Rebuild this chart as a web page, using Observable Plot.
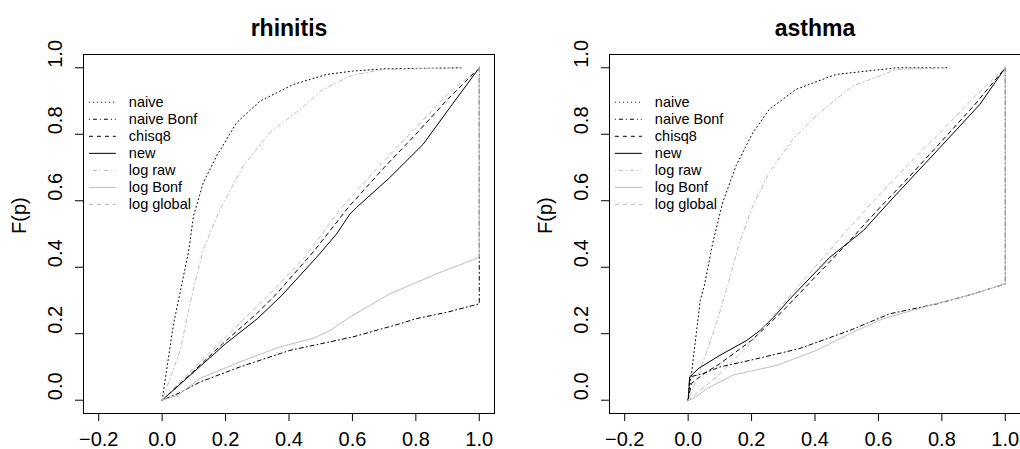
<!DOCTYPE html>
<html><head><meta charset="utf-8">
<script src="https://cdn.jsdelivr.net/npm/d3@7"></script>
<script src="https://cdn.jsdelivr.net/npm/@observablehq/plot@0.6"></script>
<style>
body{margin:0;background:#fff;}
#wrap{display:flex;width:1020px;height:449px;overflow:hidden;}
#wrap svg{display:block;flex:none;}
</style></head><body><div id="wrap"></div>
<script>
const seriesNames = ["naive","naive Bonf","chisq8","new","log raw","log Bonf","log global"];
const panelTitles = ["rhinitis","asthma"];
const xTicks = [-0.2,0,0.2,0.4,0.6,0.8,1.0];
const yTicks = [0,0.2,0.4,0.6,0.8,1.0];
const yLabel = "F(p)";

// rhinitis: [p, F(p)]
const rhinitisNaive = [[0,0],[0.035,0.225],[0.083,0.445],[0.099,0.555],[0.13,0.655],[0.172,0.735],[0.235,0.835],[0.309,0.9],[0.414,0.95],[0.519,0.98],[0.6,0.99],[0.7,0.997],[0.95,1]];
const rhinitisNaiveBonf = [[0,0],[0.05,0.02],[0.12,0.055],[0.245,0.1],[0.403,0.15],[0.6,0.19],[0.75,0.23],[0.8,0.245],[0.9,0.265],[1,0.29],[1,1]];
const rhinitisChisq8 = [[0,0],[0.1,0.088],[0.2,0.178],[0.3,0.262],[0.361,0.32],[0.48,0.45],[0.587,0.58],[0.7,0.70],[0.8,0.80],[0.9,0.905],[1,1]];
const rhinitisNew = [[0,0],[0.1,0.085],[0.2,0.17],[0.3,0.245],[0.377,0.315],[0.487,0.43],[0.55,0.5],[0.592,0.56],[0.613,0.58],[0.718,0.67],[0.823,0.77],[0.907,0.88],[1,1]];
const rhinitisLogRaw = [[0,0],[0.057,0.15],[0.09,0.3],[0.13,0.455],[0.183,0.575],[0.256,0.705],[0.34,0.805],[0.435,0.875],[0.5,0.93],[0.56,0.96],[0.6,0.978],[0.7,0.995],[0.95,1]];
const rhinitisLogBonf = [[0,0],[0.05,0.015],[0.12,0.066],[0.245,0.115],[0.37,0.16],[0.476,0.186],[0.53,0.21],[0.592,0.25],[0.718,0.32],[0.865,0.38],[1,0.43],[1,1]];
const rhinitisLogGlobal = [[0,0],[0.1,0.097],[0.2,0.19],[0.34,0.32],[0.45,0.43],[0.566,0.58],[0.68,0.70],[0.8,0.82],[0.9,0.92],[1,1]];

// asthma: [p, F(p)]
const asthmaNaive = [[0,0],[0.013,0.1],[0.038,0.3],[0.051,0.345],[0.078,0.475],[0.109,0.595],[0.151,0.705],[0.204,0.805],[0.256,0.875],[0.34,0.935],[0.466,0.98],[0.657,1],[0.815,1]];
const asthmaNaiveBonf = [[0,0],[0.005,0.07],[0.047,0.08],[0.1,0.1],[0.195,0.12],[0.35,0.155],[0.51,0.21],[0.636,0.26],[0.785,0.29],[0.9,0.32],[1,0.35],[1,1]];
const asthmaChisq8 = [[0,0],[0.01,0.05],[0.05,0.08],[0.1,0.11],[0.2,0.18],[0.3,0.27],[0.4,0.37],[0.5,0.47],[0.6,0.575],[0.7,0.675],[0.8,0.78],[0.9,0.885],[1,1]];
const asthmaNew = [[0,0],[0.005,0.07],[0.032,0.095],[0.1,0.135],[0.185,0.18],[0.227,0.21],[0.27,0.25],[0.321,0.305],[0.447,0.43],[0.552,0.51],[0.657,0.62],[0.794,0.76],[0.92,0.89],[1,1]];
const asthmaLogRaw = [[0,0],[0.013,0.03],[0.06,0.15],[0.095,0.25],[0.125,0.345],[0.162,0.475],[0.204,0.585],[0.256,0.685],[0.33,0.785],[0.414,0.865],[0.519,0.945],[0.657,0.995],[0.815,1]];
const asthmaLogBonf = [[0,0],[0.016,0.005],[0.06,0.035],[0.14,0.075],[0.28,0.105],[0.405,0.15],[0.51,0.2],[0.615,0.245],[0.78,0.29],[0.9,0.32],[1,0.35],[1,1]];
const asthmaLogGlobal = [[0,0],[0.09,0.07],[0.195,0.17],[0.3,0.29],[0.4,0.4],[0.5,0.51],[0.605,0.62],[0.7,0.715],[0.8,0.81],[0.9,0.91],[1,1]];

const rhinitisSeries = [rhinitisNaive, rhinitisNaiveBonf, rhinitisChisq8, rhinitisNew, rhinitisLogRaw, rhinitisLogBonf, rhinitisLogGlobal];
const asthmaSeries = [asthmaNaive, asthmaNaiveBonf, asthmaChisq8, asthmaNew, asthmaLogRaw, asthmaLogBonf, asthmaLogGlobal];

const GRAY = "#bebebe";
const lineStyles = [
  {stroke: "#000", dash: "1,3"},
  {stroke: "#000", dash: "1,3,4,3"},
  {stroke: "#000", dash: "4,4"},
  {stroke: "#000", dash: null},
  {stroke: GRAY, dash: "1,3,4,3"},
  {stroke: GRAY, dash: null},
  {stroke: GRAY, dash: "4,4"}
];

const fmt = d3.format(".1f");
const font = "'Liberation Sans', Arial, Helvetica, sans-serif";

function panel(title, series, ml, mr) {
  const marks = [];
  series.forEach((pts, i) => {
    marks.push(Plot.line(pts, {
      x: d => d[0], y: d => d[1],
      stroke: lineStyles[i].stroke,
      strokeDasharray: lineStyles[i].dash,
      strokeWidth: 1
    }));
  });
  // legend (top-left, no box)
  const legendRows = seriesNames.map((name, i) => ({name, i, y: 0.8965 - i * 0.0513}));
  legendRows.forEach((r) => {
    marks.push(Plot.link([r], {
      x1: () => -0.231, x2: () => -0.146, y1: d => d.y, y2: d => d.y,
      stroke: lineStyles[r.i].stroke, strokeDasharray: lineStyles[r.i].dash, strokeWidth: 1
    }));
  });
  marks.push(Plot.text(legendRows, {
    x: () => -0.105, y: d => d.y, text: d => d.name,
    textAnchor: "start", fontSize: 14.5, fill: "#000"
  }));
  // axes
  marks.push(Plot.axisX({ticks: xTicks, tickSize: 8, tickPadding: 10, fontSize: 20, tickFormat: fmt, label: null}));
  marks.push(Plot.axisY({ticks: yTicks, tickSize: 8, tickFormat: () => "", label: null}));
  marks.push(Plot.text(yTicks, {
    y: d => d, text: d => fmt(d), frameAnchor: "left", dx: -28, rotate: -90, fontSize: 20, fill: "#000"
  }));
  marks.push(Plot.text([yLabel], {frameAnchor: "left", dx: -64, rotate: -90, fontSize: 20, fill: "#000"}));
  marks.push(Plot.text([title], {frameAnchor: "top", dy: -35, fontSize: 23, fontWeight: "bold", fill: "#000"}));
  marks.push(Plot.frame({stroke: "#000", strokeWidth: 1}));
  return Plot.plot({
    width: 510, height: 449,
    marginLeft: ml, marginRight: mr, marginTop: 54, marginBottom: 36,
    x: {domain: [-0.248, 1.048], label: null},
    y: {domain: [-0.04, 1.04], label: null},
    style: {fontFamily: font, background: "white", color: "#000", overflow: "visible"},
    marks
  });
}

const wrap = document.getElementById("wrap");
wrap.appendChild(panel(panelTitles[0], rhinitisSeries, 83, 16));
wrap.appendChild(panel(panelTitles[1], asthmaSeries, 99, 0));
</script></body></html>
